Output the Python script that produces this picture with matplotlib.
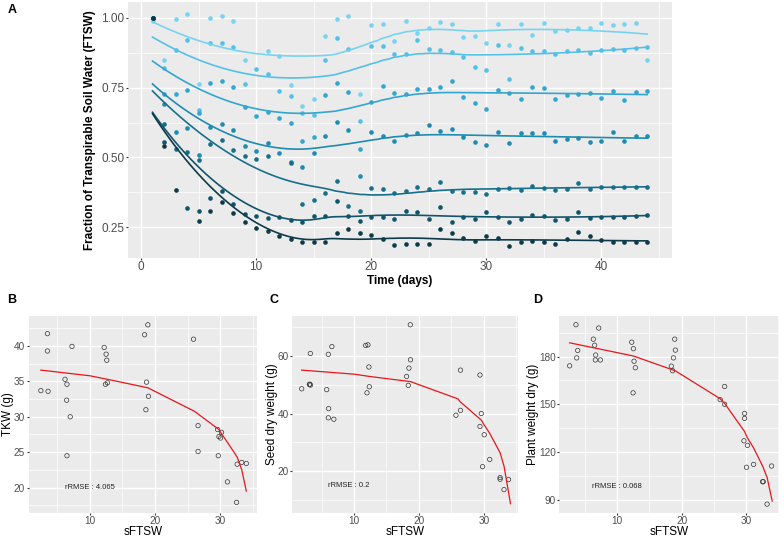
import numpy as np
import matplotlib
matplotlib.use("Agg")
import matplotlib.pyplot as plt
from matplotlib.ticker import MultipleLocator, FixedLocator

plt.rcParams['font.family'] = ['Liberation Sans', 'DejaVu Sans']

# ---- panel A data: FTSW per day for seven pot groups (light -> dark) ----
days = list(range(1, 45))
N = None
ftsw_1 = [0.99, 0.848, 0.996, 1.014, 0.764, 1.0, 1.005, 0.988, 0.85, N, 0.88, 0.865, 0.758, 0.683, 0.711,
          0.935, 0.994, 1.008, 0.726, 0.976, 0.977, 0.917, 0.988, 0.946, 0.964, 0.986, 0.977, 0.93, 0.935,
          0.911, 0.977, 0.901, 0.979, 0.937, 0.981, 0.952, 0.955, 0.964, 0.963, 0.981, 0.975, 0.979, 0.981, 0.849]
ftsw_2 = [1.0, 0.82, 0.886, 0.921, 0.669, 0.91, 0.91, 0.895, 0.764, 0.818, 0.798, 0.737, 0.72, 0.66, 0.651,
          0.85, 0.929, 0.887, 0.631, 0.899, 0.899, 0.869, 0.871, 0.919, 0.89, 0.883, 0.876, 0.858, 0.825,
          0.814, 0.904, 0.78, 0.892, 0.882, 0.88, 0.869, 0.881, 0.886, 0.874, 0.886, 0.888, 0.883, 0.893, 0.895]
ftsw_3 = [1.0, 0.726, 0.726, 0.74, 0.66, 0.767, 0.773, 0.752, 0.681, 0.649, 0.663, 0.643, 0.624, 0.56, 0.574,
          0.723, 0.767, 0.735, 0.532, 0.699, 0.755, 0.729, 0.726, 0.746, 0.744, 0.751, 0.773, 0.717, 0.696,
          0.674, 0.74, 0.731, 0.708, 0.752, 0.75, 0.708, 0.723, 0.726, 0.729, 0.714, 0.738, 0.707, 0.735, 0.738]
ftsw_4 = [1.0, 0.69, 0.59, 0.606, 0.508, 0.61, 0.62, 0.60, 0.542, 0.524, 0.552, 0.517, 0.485, 0.467, 0.517,
          0.576, 0.627, 0.6, 0.434, 0.592, 0.576, 0.56, 0.581, 0.586, 0.617, 0.594, 0.601, 0.574, 0.556,
          0.543, 0.59, 0.551, 0.586, 0.587, 0.589, 0.56, 0.567, 0.571, 0.557, 0.56, 0.59, 0.56, 0.576, 0.577]
ftsw_5 = [1.0, 0.62, 0.532, 0.52, 0.49, 0.548, 0.562, 0.526, 0.506, 0.495, 0.505, N, 0.479, 0.332, 0.348,
          0.374, 0.415, 0.327, 0.308, 0.389, 0.387, 0.374, 0.381, 0.394, 0.386, 0.412, 0.381, 0.377, 0.377,
          0.37, 0.388, 0.389, 0.383, 0.396, 0.391, 0.382, 0.386, 0.408, 0.388, 0.393, 0.394, 0.394, 0.394, 0.395]
ftsw_6 = [1.0, 0.556, N, 0.32, 0.31, 0.354, 0.38, 0.333, 0.298, 0.29, 0.283, 0.287, 0.276, 0.27, 0.29,
          0.29, 0.344, 0.29, 0.272, 0.288, 0.286, 0.279, 0.31, 0.305, 0.281, 0.323, 0.27, 0.286, 0.28,
          0.305, 0.285, 0.269, 0.28, 0.295, 0.29, 0.276, 0.279, 0.305, 0.283, 0.288, 0.288, 0.288, 0.29, 0.295]
ftsw_7 = [1.0, 0.54, 0.383, N, 0.274, 0.31, 0.34, 0.30, 0.27, 0.249, 0.235, 0.219, 0.207, 0.199, 0.199,
          0.199, 0.231, 0.245, 0.231, 0.223, 0.207, 0.188, 0.191, 0.191, 0.191, 0.243, 0.229, 0.213, 0.2,
          0.217, 0.212, 0.182, 0.198, 0.2, 0.196, 0.191, 0.207, 0.233, 0.217, 0.205, 0.199, 0.198, 0.196, 0.198]
series_colors = ['#78d3f1', '#55c0e7', '#33a6cf', '#1e8bb0', '#176f8c', '#11546a', '#0c3a49']

# ---- panel B-D data ----
b_x = [2.5, 3.5, 3.5, 3.6, 6.2, 6.5, 6.45, 6.5, 7.0, 7.27, 12.2, 12.5, 12.6, 12.4, 12.7, 18.4, 18.9, 18.7,
       18.6, 19.0, 25.9, 26.6, 26.6, 29.6, 30.2, 29.8, 30.05, 29.7, 31.1, 32.5, 32.6, 33.3, 34.0]
b_tkw = [33.7, 41.75, 39.3, 33.6, 35.3, 34.6, 32.35, 24.5, 30.0, 39.95, 39.8, 38.85, 38.0, 34.6, 34.8, 41.6,
         43.0, 34.9, 31.0, 32.9, 40.97, 28.75, 25.1, 28.2, 27.8, 27.2, 27.0, 24.5, 20.8, 17.9, 23.3, 23.55, 23.4]
b_fit_x = [2.5, 10.0, 12.7, 18.9, 26.0, 26.6, 29.8, 30.2, 31.1, 32.6, 33.3, 34.0]
b_fit_y = [36.6, 35.8, 35.3, 34.1, 30.8, 30.4, 28.2, 27.6, 26.4, 24.3, 22.5, 19.5]

c_x = [1.95, 3.13, 3.2, 3.3, 3.28, 5.8, 6.05, 6.1, 6.05, 6.6, 6.9, 11.8, 12.15, 12.3, 12.0, 12.36, 18.1,
       18.36, 18.46, 18.7, 18.67, 25.7, 26.4, 26.4, 29.4, 29.6, 29.4, 30.05, 29.8, 30.9, 32.5, 32.5, 33.1, 33.8]
c_seed = [48.6, 50.1, 50.2, 49.9, 60.9, 48.3, 60.6, 41.7, 38.5, 63.3, 38.0, 63.7, 63.9, 56.2, 47.2, 49.3,
          52.9, 49.8, 55.8, 58.7, 70.9, 39.4, 55.1, 41.1, 53.4, 40.0, 35.5, 32.6, 21.5, 24.0, 17.7, 17.1, 13.5, 17.0]
c_fit_x = [1.95, 10.0, 12.4, 18.7, 26.0, 26.4, 29.6, 30.05, 30.9, 32.5, 33.1, 34.1]
c_fit_y = [55.1, 53.7, 52.9, 51.1, 45.1, 44.0, 37.7, 36.0, 33.1, 26.3, 21.7, 8.6]

d_x = [2.58, 3.56, 3.67, 3.83, 6.27, 6.47, 6.63, 6.58, 7.1, 7.36, 12.24, 12.5, 12.6, 12.8, 12.45, 18.4, 18.6,
       18.73, 18.93, 19.03, 26.0, 26.7, 26.7, 29.8, 29.8, 29.7, 30.25, 30.1, 31.2, 32.6, 32.7, 33.3, 34.0]
d_plant = [174.2, 200.1, 179.2, 183.9, 191.0, 187.2, 181.0, 177.9, 198.0, 177.9, 189.1, 185.0, 177.1, 173.0,
           157.2, 174.0, 171.1, 179.2, 191.0, 184.1, 152.9, 161.2, 150.0, 144.2, 141.1, 127.0, 124.1, 110.3,
           112.1, 101.2, 101.2, 87.1, 111.1]
d_fit_x = [2.58, 12.5, 19.0, 26.0, 26.7, 29.8, 30.2, 31.2, 32.6, 33.3, 34.1]
d_fit_y = [188.7, 180.4, 171.1, 153.5, 150.5, 132.8, 129.1, 122.5, 111.1, 103.9, 89.0]


def loess(x, y, xs, span=0.75):
    # local quadratic fit with tricube weights (R loess defaults)
    q = int(np.floor(len(x) * span))
    out = []
    for x0 in xs:
        d = np.abs(x - x0)
        h = np.sort(d)[q - 1]
        w = np.clip(1 - (d / h) ** 3, 0, None) ** 3
        A = np.vstack([np.ones_like(x), x - x0, (x - x0) ** 2]).T
        sw = np.sqrt(w)
        coef = np.linalg.lstsq(A * sw[:, None], y * sw, rcond=None)[0]
        out.append(coef[0])
    return np.array(out)


def gg_style(ax, labelsize):
    ax.set_facecolor('#EBEBEB')
    for s in ax.spines.values():
        s.set_visible(False)
    ax.grid(True, which='major', color='white', linewidth=1.0)
    ax.grid(True, which='minor', color='white', linewidth=0.5)
    ax.set_axisbelow(True)
    ax.tick_params(which='major', length=1.5, color='#333333', labelcolor='#4D4D4D',
                   labelsize=labelsize, pad=1)
    ax.tick_params(which='minor', length=0)


fig = plt.figure(figsize=(7.84, 5.42), dpi=100)

# ---- A ----
axA = fig.add_axes([0.163, 0.524, 0.694, 0.472])
gg_style(axA, 8.5)
xd = np.array(days, dtype=float)
xs = np.linspace(1, 44, 120)
for vals, col in zip([ftsw_1, ftsw_2, ftsw_3, ftsw_4, ftsw_5, ftsw_6, ftsw_7], series_colors):
    yv = np.array([np.nan if v is None else v for v in vals])
    ok = ~np.isnan(yv)
    axA.scatter(xd[ok], yv[ok], s=11, color=col, linewidths=0, zorder=3)
    axA.plot(xs, loess(xd[ok], yv[ok], xs), color=col, lw=1.2, zorder=4)
axA.set_xlim(-1.15, 46.15)
axA.set_ylim(0.140, 1.056)
axA.xaxis.set_major_locator(MultipleLocator(10))
axA.xaxis.set_minor_locator(MultipleLocator(5))
axA.yaxis.set_major_locator(FixedLocator([0.25, 0.5, 0.75, 1.0]))
axA.yaxis.set_minor_locator(FixedLocator([0.375, 0.625, 0.875]))
axA.set_yticklabels(['0.25', '0.50', '0.75', '1.00'])
axA.set_xlabel('Time (days)', fontsize=8.5, fontweight='bold', labelpad=1)
axA.set_ylabel('Fraction of Transpirable Soil Water (FTSW)', fontsize=8.5, fontweight='bold', labelpad=4)


def small_panel(rect, x, y, fx, fy, xlim, ylim, ymaj, ymin, ylabel, rmse, rmse_xy):
    ax = fig.add_axes(rect)
    gg_style(ax, 7.2)
    ax.scatter(x, y, s=10, facecolors='none', edgecolors='#333333', linewidths=0.5, zorder=3)
    ax.plot(fx, fy, color='#E8161B', lw=0.9, zorder=4)
    ax.set_xlim(*xlim)
    ax.set_ylim(*ylim)
    ax.xaxis.set_major_locator(FixedLocator([10, 20, 30]))
    ax.xaxis.set_minor_locator(FixedLocator([5, 15, 25, 35]))
    ax.yaxis.set_major_locator(FixedLocator(ymaj))
    ax.yaxis.set_minor_locator(FixedLocator(ymin))
    ax.set_xlabel('sFTSW', fontsize=8.5, labelpad=0)
    ax.set_ylabel(ylabel, fontsize=8.5, labelpad=0)
    ax.text(rmse_xy[0], rmse_xy[1], 'rRMSE : ' + rmse, fontsize=5.5, color='#222222',
            va='center', ha='left')
    return ax


bottom, height = 0.0535, 0.3635
small_panel([0.0365, bottom, 0.2910, height], b_x, b_tkw, b_fit_x, b_fit_y, (0.62, 35.6), (16.4, 44.25),
            [20, 25, 30, 35, 40], [17.5, 22.5, 27.5, 32.5, 37.5, 42.5], 'TKW (g)', '4.065', (6.2, 20.0))
small_panel([0.3728, bottom, 0.2883, height], c_x, c_seed, c_fit_x, c_fit_y, (0.5, 35.3), (5.36, 73.95),
            [20, 40, 60], [10, 30, 50, 70], 'Seed dry weight (g)', '0.2', (6.0, 15.0))
small_panel([0.7134, bottom, 0.2806, height], d_x, d_plant, d_fit_x, d_fit_y, (0.97, 35.2), (81.5, 205.6),
            [90, 120, 150, 180], [105, 135, 165, 195], 'Plant weight dry (g)', '0.068', (6.0, 98.0))

for lab, (px, py) in zip('ABCD', [(8, 10), (7, 300), (270, 300), (533, 300)]):
    fig.text(px / 784, 1 - py / 542, lab, fontsize=9, fontweight='bold', va='center', ha='left')

fig.savefig('out.png', dpi=100)
